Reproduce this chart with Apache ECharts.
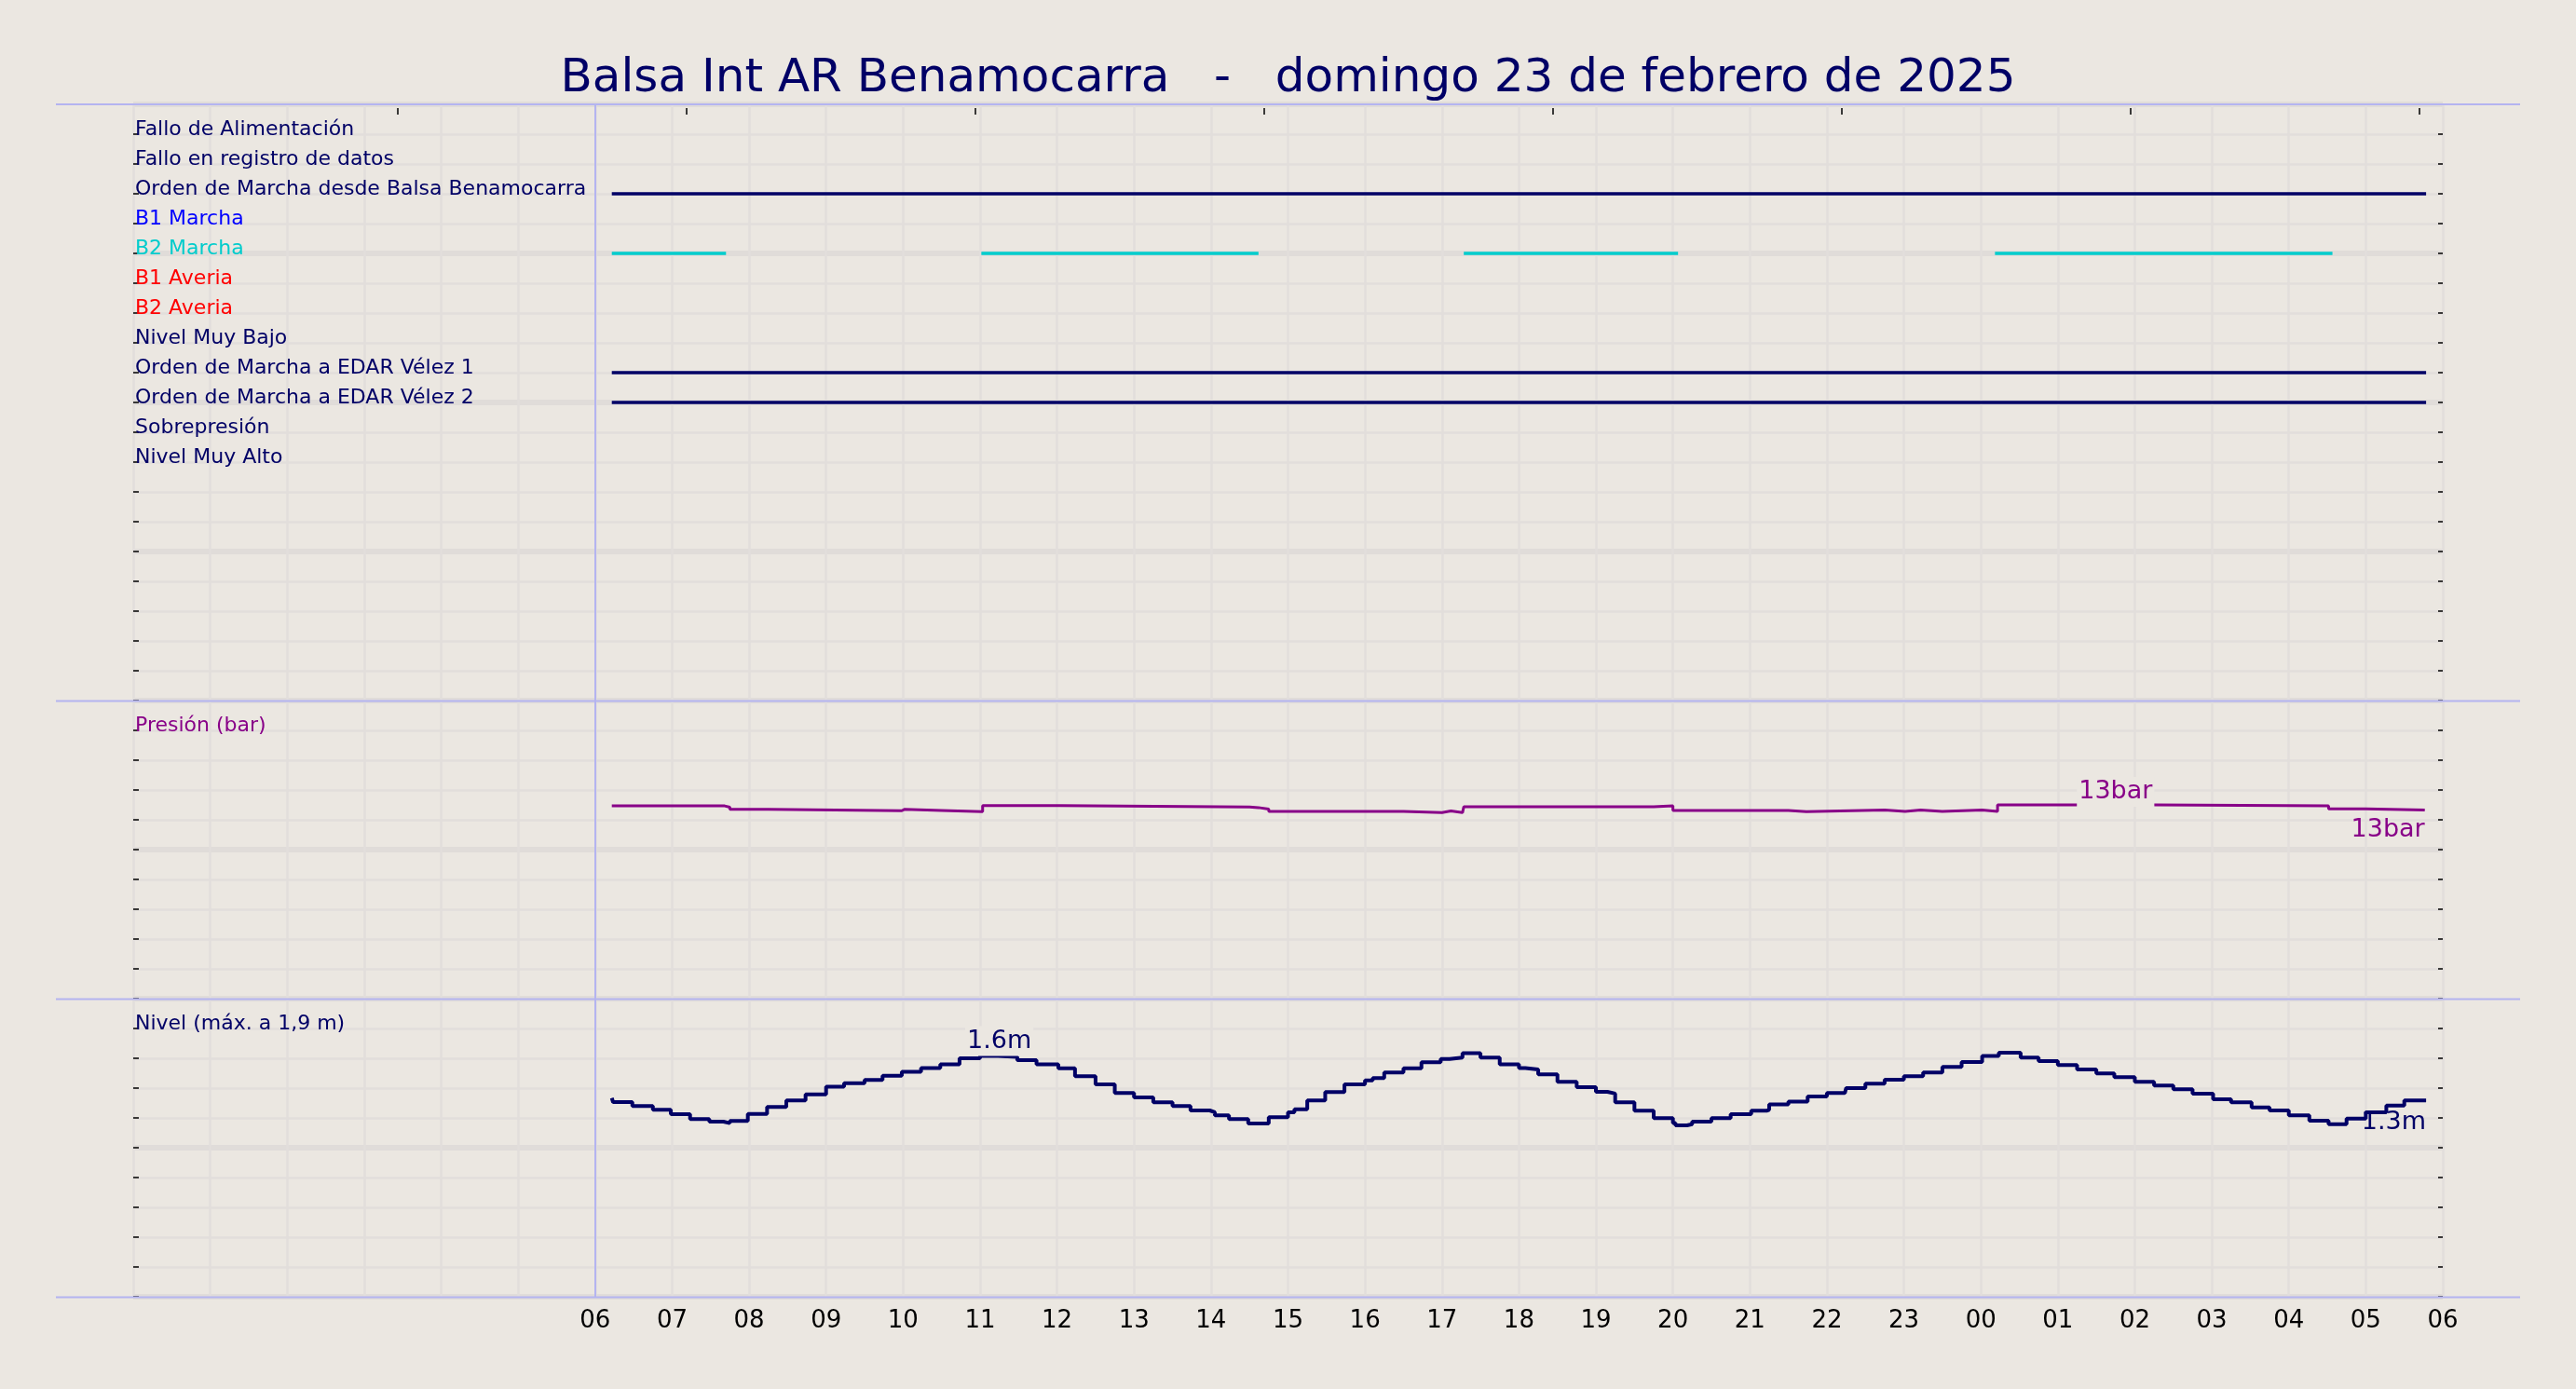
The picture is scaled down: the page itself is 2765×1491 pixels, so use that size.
<!DOCTYPE html>
<html><head><meta charset="utf-8">
<script src="https://cdn.jsdelivr.net/npm/echarts@6/dist/echarts.min.js"></script>
<style>html,body{margin:0;padding:0;background:#ebe7e1;}#c{width:2765px;height:1491px;}</style>
</head><body><div id="c"></div>
<script>
const titleText = 'Balsa Int AR Benamocarra   -   domingo 23 de febrero de 2025';
const signalNames = ['Fallo de Alimentación','Fallo en registro de datos','Orden de Marcha desde Balsa Benamocarra','B1 Marcha','B2 Marcha','B1 Averia','B2 Averia','Nivel Muy Bajo','Orden de Marcha a EDAR Vélez 1','Orden de Marcha a EDAR Vélez 2','Sobrepresión','Nivel Muy Alto'];
const signalColors = ['#000066','#000066','#000066','#0000ff','#00cccc','#ff0000','#ff0000','#000066','#000066','#000066','#000066','#000066'];
const ordenBalsaOn = [['06:13','05:47']];
const b2MarchaOn = [['06:13','07:42'],['11:01','14:37'],['17:17','20:04'],['00:11','04:34']];
const edar1On = [['06:13','05:47']];
const edar2On = [['06:13','05:47']];
const hourLabels = ['06','07','08','09','10','11','12','13','14','15','16','17','18','19','20','21','22','23','00','01','02','03','04','05','06'];
const topTickHours = [-2.565, 1.188, 4.94, 8.69, 12.44, 16.19, 19.94, 23.69];

const pressureTimes = ['06:13','07:41','07:45','08:15','09:59','10:01','10:30','11:02','12:02','14:30','14:37','14:45','16:30','17:00','17:07','17:16','17:17','19:45','20:00','21:30','21:44','22:45','23:01','23:13','23:30','00:01','00:13','02:16','04:31','05:00','05:46'];
const pressureValues = [12.93,12.84,12.70,12.61,12.70,12.63,12.55,12.95,12.86,12.82,12.72,12.57,12.48,12.59,12.48,12.57,12.87,12.93,12.63,12.55,12.65,12.57,12.65,12.57,12.65,12.57,13.00,12.93,12.74,12.65,12.65];
const pressureTopMark = ['01:45', 13.0];

const levelTimes = ['06:13','06:14','06:29','06:45','06:59','07:14','07:29','07:40','07:45','07:59','08:14','08:29','08:44','09:00','09:14','09:30','09:44','09:59','10:14','10:29','10:44','11:00','11:14','11:29','11:44','12:01','12:14','12:30','12:45','13:00','13:15','13:30','13:44','13:59','14:03','14:14','14:29','14:45','15:00','15:05','15:15','15:29','15:44','16:00','16:06','16:15','16:30','16:44','16:59','17:06','17:16','17:30','17:45','18:00','18:05','18:15','18:30','18:45','19:00','19:09','19:15','19:30','19:45','20:00','20:02','20:11','20:15','20:30','20:45','21:01','21:13','21:15','21:30','21:45','22:00','22:14','22:15','22:30','22:45','23:00','23:15','23:30','23:45','00:01','00:14','00:31','00:45','01:00','01:15','01:30','01:44','02:00','02:15','02:30','02:45','03:01','03:15','03:31','03:45','04:00','04:16','04:31','04:45','05:00','05:16','05:30','05:47'];
const levelValues = [1.333,1.306,1.279,1.254,1.225,1.192,1.175,1.165,1.179,1.227,1.273,1.317,1.358,1.410,1.433,1.454,1.483,1.510,1.535,1.560,1.600,1.615,1.609,1.588,1.560,1.533,1.479,1.425,1.367,1.338,1.304,1.279,1.250,1.238,1.217,1.192,1.163,1.204,1.238,1.258,1.317,1.373,1.425,1.452,1.467,1.504,1.533,1.573,1.596,1.604,1.635,1.604,1.560,1.535,1.525,1.492,1.442,1.406,1.375,1.363,1.304,1.248,1.198,1.165,1.150,1.158,1.175,1.198,1.225,1.248,1.254,1.290,1.310,1.344,1.367,1.375,1.400,1.429,1.456,1.479,1.504,1.542,1.575,1.615,1.638,1.604,1.581,1.554,1.525,1.498,1.473,1.442,1.417,1.392,1.363,1.325,1.304,1.271,1.250,1.217,1.181,1.158,1.196,1.238,1.283,1.317,1.317];
const levelTopMark = ['11:15', 1.615];

const BG = '#ebe7e1', GRID = '#e2dedb', MAJOR = '#e0dcd9', SEP = '#b4b4f0';
const NAVY = '#000066', PURPLE = '#880088', FONT = 'DejaVu Sans';

function toH(s){ const p = s.split(':').map(Number); let h = p[0] + p[1]/60 - 6; if (h < 0) h += 24; return h; }
function intervalsData(on, row){ const d = []; on.forEach(iv => { d.push([toH(iv[0]), row]); d.push([toH(iv[1]), row]); d.push([toH(iv[1]), '-']); }); return d; }

const chart = echarts.init(document.getElementById('c'));
const grids = [
  {left:143, right:143, top:112, height:640},
  {left:143, right:143, top:752, height:320},
  {left:143, right:143, top:1072, height:320}
];
function xAx(i, showLabels){
  return {type:'value', gridIndex:i, min:-6, max:24, interval:1,
    axisLine:{show:false, onZero:false}, axisTick:{show:false},
    axisLabel: showLabels ? {show:true, margin:13, fontSize:26, lineHeight:26, color:'#000', fontFamily:FONT,
      formatter: v => (v >= 0 ? hourLabels[Math.round(v)] : '')} : {show:false},
    splitLine:{show:true, lineStyle:{color:GRID, width:2.5}}};
}
const tickStyle = {color:'#000', width:1.5};
function yLeft(i, min, max, interval, inverse, fmt, col){
  return {type:'value', gridIndex:i, min, max, interval, inverse, position:'left',
    axisLine:{show:false, onZero:false},
    axisTick:{show:true, inside:true, length:6, lineStyle:tickStyle},
    axisLabel:{show:true, inside:true, margin:2, formatter:fmt, color:col, fontSize:22, fontFamily:FONT, verticalAlign:'bottom', lineHeight:10},
    splitLine:{show:true, lineStyle:{color:GRID, width:2.5}}};
}
function yRight(i, min, max, interval, inverse){
  return {type:'value', gridIndex:i, min, max, interval, inverse, position:'right',
    axisLine:{show:false, onZero:false},
    axisTick:{show:true, inside:true, length:5, lineStyle:tickStyle},
    minorTick:{show:true, splitNumber:5, length:5, lineStyle:tickStyle},
    axisLabel:{show:false},
    splitLine:{show:true, lineStyle:{color:MAJOR, width:6}}};
}
const vLine = {silent:true, symbol:'none', label:{show:false}, lineStyle:{color:SEP, width:2, type:'solid'}, data:[{xAxis:0}]};

const signalDefs = [
  {row:3, on:ordenBalsaOn},
  {row:5, on:b2MarchaOn},
  {row:9, on:edar1On},
  {row:10, on:edar2On}
];
const series = signalDefs.map((s, k) => ({
  type:'line', xAxisIndex:0, yAxisIndex:0, symbol:'none', connectNulls:false,
  lineStyle:{color:signalColors[s.row-1], width:3.3}, itemStyle:{color:signalColors[s.row-1]},
  data: intervalsData(s.on, s.row), markLine: k === 0 ? vLine : undefined
}));

const lastP = pressureValues[pressureValues.length-1], lastPT = toH(pressureTimes[pressureTimes.length-1]);
const lastL = levelValues[levelValues.length-1], lastLT = toH(levelTimes[levelTimes.length-1]);
const annoBase = {fontSize:27, lineHeight:27, fontFamily:FONT, position:'inside'};

series.push({
  type:'line', xAxisIndex:1, yAxisIndex:2, step:'end', symbol:'none',
  lineStyle:{color:PURPLE, width:3}, itemStyle:{color:PURPLE},
  data: pressureTimes.map((t, i) => [toH(t), pressureValues[i]]),
  markLine: vLine,
  markPoint:{symbol:'rect', symbolSize:1, silent:true, itemStyle:{color:'rgba(0,0,0,0)'},
    data:[
      {coord:[toH(pressureTopMark[0]), pressureTopMark[1]],
       label:Object.assign({show:true, color:PURPLE, offset:[0,-14], backgroundColor:BG, padding:[2,2,3,2], formatter: Math.round(pressureTopMark[1]) + 'bar'}, annoBase)},
      {coord:[lastPT, lastP],
       label:Object.assign({show:true, color:PURPLE, align:'right', offset:[0,21], formatter: Math.round(lastP) + 'bar'}, annoBase)}
    ]}
});
series.push({
  type:'line', xAxisIndex:2, yAxisIndex:4, step:'end', symbol:'none',
  lineStyle:{color:NAVY, width:4}, itemStyle:{color:NAVY},
  data: levelTimes.map((t, i) => [toH(t), levelValues[i]]),
  markLine: vLine,
  markPoint:{symbol:'rect', symbolSize:1, silent:true, itemStyle:{color:'rgba(0,0,0,0)'},
    data:[
      {coord:[toH(levelTopMark[0]), levelTopMark[1]],
       label:Object.assign({show:true, color:NAVY, offset:[0,-16], backgroundColor:BG, padding:[2,2,3,2], formatter: levelTopMark[1].toFixed(1) + 'm'}, annoBase)},
      {coord:[lastLT, lastL],
       label:Object.assign({show:true, color:NAVY, align:'right', offset:[0,24], formatter: lastL.toFixed(1) + 'm'}, annoBase)}
    ]}
});

const sepYs = [112, 752.5, 1072.5, 1392.5];
chart.setOption({
  animation:false,
  backgroundColor:BG,
  title:{text:titleText, left:'center', top:55, textStyle:{fontSize:50, lineHeight:50, fontWeight:'normal', color:NAVY, fontFamily:FONT}},
  grid:grids,
  xAxis:[
    xAx(0,false), xAx(1,false), xAx(2,true),
    {type:'value', gridIndex:0, position:'top', min:-6, max:24, offset:-4,
      axisLine:{show:false, onZero:false}, axisLabel:{show:false}, splitLine:{show:false},
      axisTick:{show:true, inside:true, length:7, customValues:topTickHours, lineStyle:tickStyle}}
  ],
  yAxis:[
    yLeft(0, 0, 20, 1, true, v => signalNames[Math.round(v)-1] || '', v => signalColors[Math.round(Number(v))-1] || NAVY),
    yRight(0, 0, 20, 5, true),
    yLeft(1, 0, 20, 2, false, v => (Math.abs(v-18) < 1e-6 ? 'Presión (bar)' : ''), PURPLE),
    yRight(1, 0, 20, 10, false),
    yLeft(2, 0, 2, 0.2, false, v => (Math.abs(v-1.8) < 1e-6 ? 'Nivel (máx. a 1,9 m)' : ''), NAVY),
    yRight(2, 0, 2, 1, false)
  ],
  graphic: sepYs.map(y => ({type:'line', z:100, silent:true, shape:{x1:60, y1:y, x2:2705, y2:y}, style:{stroke:SEP, lineWidth:2}})),
  series
});
</script></body></html>
